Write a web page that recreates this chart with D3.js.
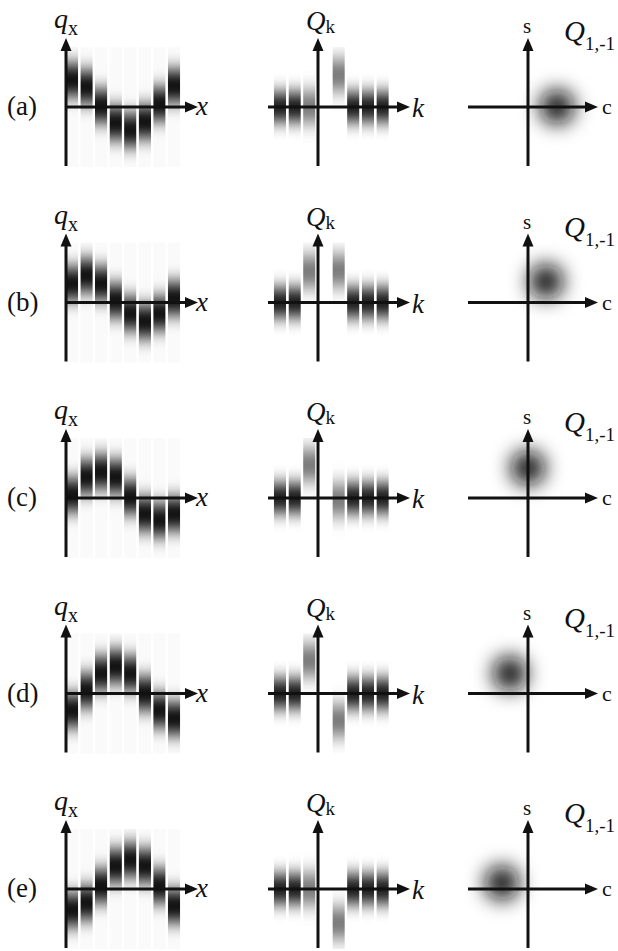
<!DOCTYPE html>
<html>
<head>
<meta charset="utf-8">
<style>
  body { margin: 0; background: #fff; }
  svg { display: block; }
  svg text { font-family: "Liberation Serif", "Times New Roman", Times, "DejaVu Serif", serif !important; fill: #111; }
  .ax { stroke: #111; stroke-width: 3; fill: none; }
  .head { fill: #111; }
</style>
</head>
<body>
<svg width="618" height="951"></svg>
<script src="https://d3js.org/d3.v7.min.js"></script>
<script>
// panel rows (a)-(e)
var rowLabels = ["(a)", "(b)", "(c)", "(d)", "(e)"];

// displacement q_x of sites x = 1..8 (unit ~ one amplitude)
var sites = [1, 2, 3, 4, 5, 6, 7, 8];
var qx = [
  [1.08, 0.80, 0.04, -0.64, -0.92, -0.60, 0.12, 0.84],
  [0.76, 1.08, 0.76, 0.08, -0.44, -0.76, -0.44, 0.16],
  [0.12, 0.84, 1.04, 0.84, 0.04, -0.64, -0.88, -0.64],
  [-0.68, 0.12, 0.80, 1.08, 0.80, 0.00, -0.68, -1.00],
  [-0.84, -0.56, 0.12, 0.92, 1.16, 0.92, 0.12, -0.68]
];

// mode amplitudes Q_k
var modes = [-3, -2, -1, 1, 2, 3, 4];
var Qk = [
  [0, 0, 0.00, 1.28, 0, 0, 0],
  [0, 0, 1.24, 1.28, 0, 0, 0],
  [0, 0, 1.32, -0.08, 0, 0, 0],
  [0, 0, 1.32, -1.08, 0, 0, 0],
  [0, 0, 0.00, -1.36, 0, 0, 0]
];

// phase-space point of Q_{1,-1}: [c, s]
var phase = [
  [1.16, 0.00],
  [0.72, 0.84],
  [0.00, 1.20],
  [-0.72, 0.80],
  [-1.04, 0.24]
];

var svg = d3.select("svg");
var defs = svg.append("defs");

function blur(id, sd) {
  defs.append("filter").attr("id", id)
    .attr("x", "-200%").attr("y", "-200%").attr("width", "500%").attr("height", "500%")
    .append("feGaussianBlur").attr("stdDeviation", sd);
}
blur("vblur", "0 9");
blur("vblur2", "0 10");
blur("dotblur", 10);

var rowY = d3.scaleLinear().domain([0, 4]).range([107, 889]);
var xq = d3.scaleLinear().domain([1, 8]).range([72, 174]);
var xk = d3.scaleLinear().domain([-3, 4]).range([280, 382.6]);
var v = d3.scaleLinear().domain([-1, 1]).range([25, -25]);
var pc = d3.scaleLinear().domain([-1, 1]).range([-25, 25]);
var barW = 12.4;

function arrowUp(g, x, y) {
  g.append("path").attr("class", "head")
    .attr("d", "M" + x + "," + y + "L" + (x - 5.5) + "," + (y + 13) + "L" + (x + 5.5) + "," + (y + 13) + "Z");
}
function arrowRight(g, x, y) {
  g.append("path").attr("class", "head")
    .attr("d", "M" + x + "," + y + "L" + (x - 13) + "," + (y - 5.5) + "L" + (x - 13) + "," + (y + 5.5) + "Z");
}

function axes(g, ox, x0, x1) {
  g.append("line").attr("class", "ax").attr("x1", ox).attr("x2", ox).attr("y1", 59).attr("y2", -58);
  arrowUp(g, ox, -69);
  g.append("line").attr("class", "ax").attr("x1", x0).attr("x2", x1 - 10).attr("y1", 0).attr("y2", 0);
  arrowRight(g, x1, 0);
}

function blurBar(g, id, x, val, h, fill, filt) {
  defs.append("clipPath").attr("id", id).append("rect")
    .attr("x", x - barW / 2).attr("y", -60).attr("width", barW).attr("height", 120);
  g.append("g").attr("clip-path", "url(#" + id + ")")
    .append("rect")
    .attr("x", x - barW / 2).attr("width", barW)
    .attr("y", v(val) - h / 2).attr("height", h)
    .attr("fill", fill).attr("filter", "url(#" + filt + ")");
}

rowLabels.forEach(function(lab, r) {
  var g = svg.append("g").attr("transform", "translate(0," + rowY(r) + ")");

  g.append("text").attr("x", 7).attr("y", 8).style("font-size", "27px").text(lab);

  // ---- q_x panel
  g.selectAll("rect.bg").data(sites).enter().append("rect")
    .attr("class", "bg")
    .attr("x", function(d) { return xq(d) - barW / 2; })
    .attr("y", -60).attr("width", barW).attr("height", 120)
    .attr("fill", "#fafafa");
  sites.forEach(function(s, i) {
    blurBar(g, "cq" + r + "_" + i, xq(s), qx[r][i], 30, "#000", "vblur");
  });
  axes(g, 66, 66, 198);
  g.append("text").attr("x", 196).attr("y", 8).style("font-size", "27px").style("font-style", "italic").text("x");
  var t = g.append("text").attr("x", 54).attr("y", -79);
  t.append("tspan").style("font-size", "28px").style("font-style", "italic").text("q");
  t.append("tspan").attr("dy", 7).style("font-size", "20px").text("x");

  // ---- Q_k panel
  modes.forEach(function(k, i) {
    var wide = Math.abs(k) == 1;
    blurBar(g, "ck" + r + "_" + i, xk(k), Qk[r][i],
      wide ? 28 : 26, wide ? "#666" : "#000", wide ? "vblur2" : "vblur");
  });
  axes(g, 318, 268, 410);
  g.append("text").attr("x", 412).attr("y", 10).style("font-size", "27px").style("font-style", "italic").text("k");
  var t2 = g.append("text").attr("x", 306).attr("y", -77);
  t2.append("tspan").style("font-size", "27px").style("font-style", "italic").text("Q");
  t2.append("tspan").attr("dy", 3).style("font-size", "19px").text("k");

  // ---- phase space panel
  g.append("circle")
    .attr("cx", 528 + pc(phase[r][0]))
    .attr("cy", -pc(phase[r][1]))
    .attr("r", 17).attr("fill", "#111")
    .attr("filter", "url(#dotblur)");
  axes(g, 528, 468, 598);
  g.append("text").attr("x", 527).attr("y", -74).attr("text-anchor", "middle").style("font-size", "21px").text("s");
  g.append("text").attr("x", 602).attr("y", 7).style("font-size", "22px").text("c");
  var t3 = g.append("text").attr("x", 564).attr("y", -66);
  t3.append("tspan").style("font-size", "29px").style("font-style", "italic").text("Q");
  t3.append("tspan").attr("dy", 9).style("font-size", "19px").text("1,-1");
});
</script>
</body>
</html>
